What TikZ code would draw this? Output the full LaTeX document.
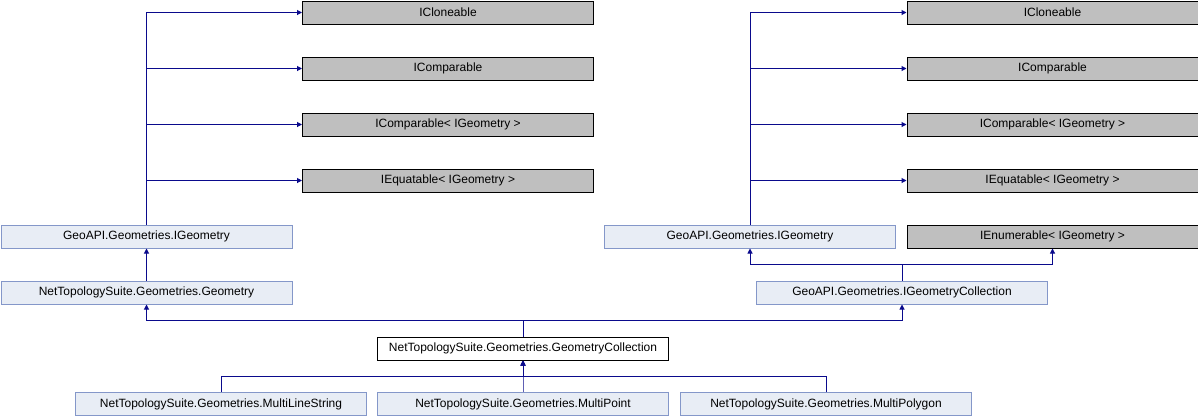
\documentclass[tikz,border=0pt]{standalone}
\usepackage{fontspec}
\setmainfont{Liberation Sans}
\usetikzlibrary{arrows.meta}
\definecolor{clsfill}{RGB}{232,237,245}
\definecolor{clsline}{RGB}{132,151,201}
\definecolor{extfill}{RGB}{191,191,191}
\definecolor{edgeblue}{RGB}{10,10,140}
\tikzset{
  box/.style={draw, line width=1pt, minimum width=291pt, minimum height=23pt,
    inner sep=0pt, anchor=north west, font=\fontsize{12}{13}\selectfont},
  cls/.style={box, draw=clsline, fill=clsfill},
  ext/.style={box, draw=black, fill=extfill},
  cur/.style={box, draw=black, fill=white},
  inh/.style={draw=edgeblue, line width=1pt, -{Triangle[length=5pt,width=5pt]}}
}
\begin{document}
\begin{tikzpicture}[x=1pt, y=-1pt]
        \useasboundingbox (0,0) rectangle (1198,416);
        % interfaces, left
        \node[ext] (lc1) at (302, 0.5) {ICloneable};
        \node[ext] (lc2) at (302, 56.5) {IComparable};
        \node[ext] (lc3) at (302, 112.5) {IComparable< IGeometry >};
        \node[ext] (lc4) at (302, 168.5) {IEquatable< IGeometry >};
        % interfaces, right
        \node[ext] (rc1) at (906.5, 0.5) {ICloneable};
        \node[ext] (rc2) at (906.5, 56.5) {IComparable};
        \node[ext] (rc3) at (906.5, 112.5) {IComparable< IGeometry >};
        \node[ext] (rc4) at (906.5, 168.5) {IEquatable< IGeometry >};
        \node[ext] (renum) at (906.5, 224.5) {IEnumerable< IGeometry >};
        % classes
        \node[cls] (lgeo) at (0.5, 224.5) {GeoAPI.Geometries.IGeometry};
        \node[cls] (rgeo) at (604, 224.5) {GeoAPI.Geometries.IGeometry};
        \node[cls] (geom) at (0.5, 280.5) {NetTopologySuite.Geometries.Geometry};
        \node[cls] (rcoll) at (756, 280.5) {GeoAPI.Geometries.IGeometryCollection};
        \node[cur] (gc) at (377, 336.5) {NetTopologySuite.Geometries.GeometryCollection};
        \node[cls] (mls) at (75, 392) {NetTopologySuite.Geometries.MultiLineString};
        \node[cls] (mpt) at (377, 392) {NetTopologySuite.Geometries.MultiPoint};
        \node[cls] (mpg) at (680, 392) {NetTopologySuite.Geometries.MultiPolygon};
        % inheritance
        \foreach \n in {lc1, lc2, lc3, lc4}
          \draw[inh] (lgeo.north) |- (\n.west);
        \foreach \n in {rc1, rc2, rc3, rc4}
          \draw[inh] (rgeo.north) |- (\n.west);
        \draw[inh] (geom.north) -- (lgeo.south);
        \foreach \n in {rgeo, renum}
          \draw[inh] (rcoll.north) -- ++(0,-16) -| (\n.south);
        \foreach \n in {geom, rcoll}
          \draw[inh] (gc.north) -- ++(0,-16) -| (\n.south);
        \foreach \n in {mls, mpt, mpg}
          \draw[inh] (\n.north) -- ++(0,-16) -| (gc.south);
\end{tikzpicture}
\end{document}
